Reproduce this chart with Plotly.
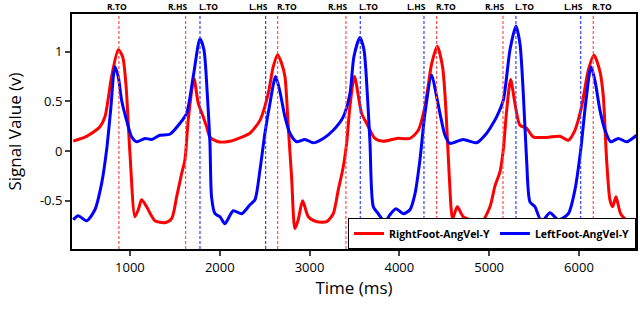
import plotly.graph_objects as go

# ---- data ----
right_t = [369, 499, 591, 666, 722, 796, 870, 919, 955, 1000, 1056, 1093, 1130, 1186, 1278, 1390, 1464, 1520,
           1576, 1612, 1649, 1713, 1761, 1816, 1854, 1891, 1983, 2114, 2225, 2336, 2448, 2540, 2596, 2645, 2690,
           2726, 2763, 2800, 2837, 2874, 2923, 2986, 3079, 3190, 3264, 3320, 3375, 3413, 3450, 3500, 3580, 3636,
           3728, 3821, 3970, 4118, 4211, 4285, 4360, 4422, 4481, 4519, 4556, 4593, 4645, 4712, 4823, 4916, 5009,
           5065, 5120, 5157, 5195, 5239, 5287, 5343, 5417, 5491, 5640, 5788, 5881, 5955, 6030, 6104, 6167, 6234,
           6271, 6308, 6345, 6375, 6412, 6464, 6549, 6642]
right_v = [0.10, 0.14, 0.19, 0.245, 0.345, 0.75, 1.02, 0.95, 0.68, -0.02, -0.66, -0.59, -0.49, -0.56, -0.70, -0.72,
           -0.68, -0.46, -0.225, -0.09, 0.31, 0.73, 0.48, 0.345, 0.245, 0.14, 0.094, 0.10, 0.134, 0.18, 0.31, 0.58,
           0.85, 0.97, 0.88, 0.75, 0.245, -0.26, -0.78, -0.69, -0.50, -0.66, -0.71, -0.71, -0.63, -0.39, -0.16, 0.08,
           0.45, 0.75, 0.38, 0.28, 0.128, 0.10, 0.128, 0.128, 0.21, 0.45, 0.88, 1.056, 0.85, 0.41, -0.26, -0.68,
           -0.56, -0.66, -0.70, -0.71, -0.56, -0.35, -0.21, 0.01, 0.41, 0.72, 0.48, 0.26, 0.23, 0.144, 0.138, 0.15,
           0.11, 0.21, 0.45, 0.815, 0.966, 0.80, 0.55, -0.09, -0.49, -0.56, -0.46, -0.63, -0.71, -0.76]

left_t = [369, 424, 518, 610, 685, 740, 785, 833, 870, 908, 963, 1019, 1075, 1167, 1242, 1334, 1445, 1557, 1631,
          1705, 1780, 1824, 1861, 1891, 1909, 1947, 2002, 2058, 2150, 2244, 2336, 2392, 2448, 2503, 2559, 2622, 2670,
          2726, 2782, 2856, 2949, 3041, 3153, 3264, 3375, 3450, 3494, 3561, 3606, 3643, 3673, 3710, 3765, 3840, 3895,
          3962, 4043, 4118, 4174, 4229, 4285, 4360, 4408, 4452, 4508, 4563, 4712, 4860, 4972, 5030, 5083, 5157, 5232,
          5298, 5343, 5380, 5417, 5454, 5510, 5584, 5677, 5770, 5881, 5955, 6019, 6078, 6134, 6178, 6234, 6290, 6353,
          6438, 6531, 6642]
left_v = [-0.69, -0.65, -0.70, -0.59, -0.325, 0.01, 0.41, 0.85, 0.75, 0.51, 0.31, 0.144, 0.094, 0.128, 0.118, 0.16,
          0.17, 0.28, 0.38, 0.75, 1.13, 1.02, 0.58, 0.08, -0.46, -0.63, -0.66, -0.73, -0.60, -0.63, -0.54, -0.49,
          -0.19, 0.18, 0.48, 0.75, 0.60, 0.345, 0.18, 0.094, 0.118, 0.084, 0.128, 0.21, 0.345, 0.58, 0.95, 1.144,
          1.02, 0.58, 0.08, -0.56, -0.63, -0.71, -0.64, -0.58, -0.63, -0.59, -0.43, -0.09, 0.38, 0.765, 0.58, 0.38,
          0.16, 0.077, 0.118, 0.084, 0.18, 0.26, 0.345, 0.51, 1.02, 1.26, 1.08, 0.58, -0.09, -0.51, -0.56, -0.71,
          -0.62, -0.69, -0.63, -0.39, 0.01, 0.51, 0.85, 0.71, 0.41, 0.21, 0.094, 0.128, 0.094, 0.16]

event_t = [877, 1620, 1780, 2511, 2645, 3405, 3565, 4274, 4415, 5154, 5298, 6019, 6159]
event_label = ["R.TO", "R.HS", "L.TO", "L.HS", "R.TO", "R.HS", "L.TO", "L.HS", "R.TO", "R.HS", "L.TO", "L.HS", "R.TO"]

x_ticks = [1000, 2000, 3000, 4000, 5000, 6000]
y_ticks = [-0.5, 0, 0.5, 1]
y_tick_text = ["-0.5", "0", "0.5", "1"]

# ---- figure ----
fig = go.Figure()
fig.add_trace(go.Scatter(x=right_t, y=right_v, mode="lines", name="RightFoot-AngVel-Y",
                         line=dict(color="#ff0000", width=3, shape="spline", smoothing=0.7)))
fig.add_trace(go.Scatter(x=left_t, y=left_v, mode="lines", name="LeftFoot-AngVel-Y",
                         line=dict(color="#0000ff", width=3, shape="spline", smoothing=0.7)))

for i, (t, lab) in enumerate(zip(event_t, event_label)):
    col = "#ff4d4d" if lab.startswith("R") else "#3340ff"
    fig.add_shape(type="line", xref="x", yref="paper", x0=t, x1=t, y0=0, y1=1,
                  line=dict(color=col, width=1.2, dash="3px,2px"), layer="above")
    if i == 0:
        anchor, shift = "center", -2
    elif lab.endswith("HS"):
        anchor, shift = "right", 3
    else:
        anchor, shift = "left", -2
    fig.add_annotation(x=t, xref="x", y=1, yref="paper", yanchor="middle", yshift=8,
                       text="<b>" + lab + "</b>", showarrow=False, xanchor=anchor, xshift=shift,
                       borderpad=0, font=dict(family="Open Sans", size=8.5, color="black"))

fig.update_layout(
    width=640, height=314,
    margin=dict(l=72, r=4, t=14, b=65),
    paper_bgcolor="white", plot_bgcolor="white",
    font=dict(family="Open Sans", color="black"),
    showlegend=True,
    legend=dict(orientation="h", x=1, y=0, xanchor="right", yanchor="bottom",
                bgcolor="white", bordercolor="black", borderwidth=1,
                font=dict(family="Open Sans", size=10.5, color="black", weight="bold"),
                itemwidth=30, tracegroupgap=0),
)
fig.update_xaxes(range=[355, 6635], tickvals=x_ticks, ticks="outside", ticklen=5, tickwidth=2,
                 showline=True, linewidth=2, linecolor="black", mirror=True, showgrid=False, zeroline=False,
                 automargin=False,
                 tickfont=dict(family="Open Sans", size=13, color="black"),
                 title=dict(text="Time (ms)", font=dict(family="Open Sans", size=17, color="black"), standoff=8))
fig.update_yaxes(range=[-0.985, 1.38], tickvals=y_ticks, ticktext=y_tick_text, ticks="outside", ticklen=5,
                 tickwidth=2, showline=True, linewidth=2, linecolor="black", mirror=True, showgrid=False,
                 zeroline=False, automargin=False, tickfont=dict(family="Open Sans", size=13, color="black"),
                 title=dict(text="Signal Value (v)", font=dict(family="Open Sans", size=17, color="black"),
                            standoff=14))

fig.write_html("out.html", config={"displayModeBar": False},
               post_script="document.body.style.margin='0';document.body.style.overflow='hidden';")
